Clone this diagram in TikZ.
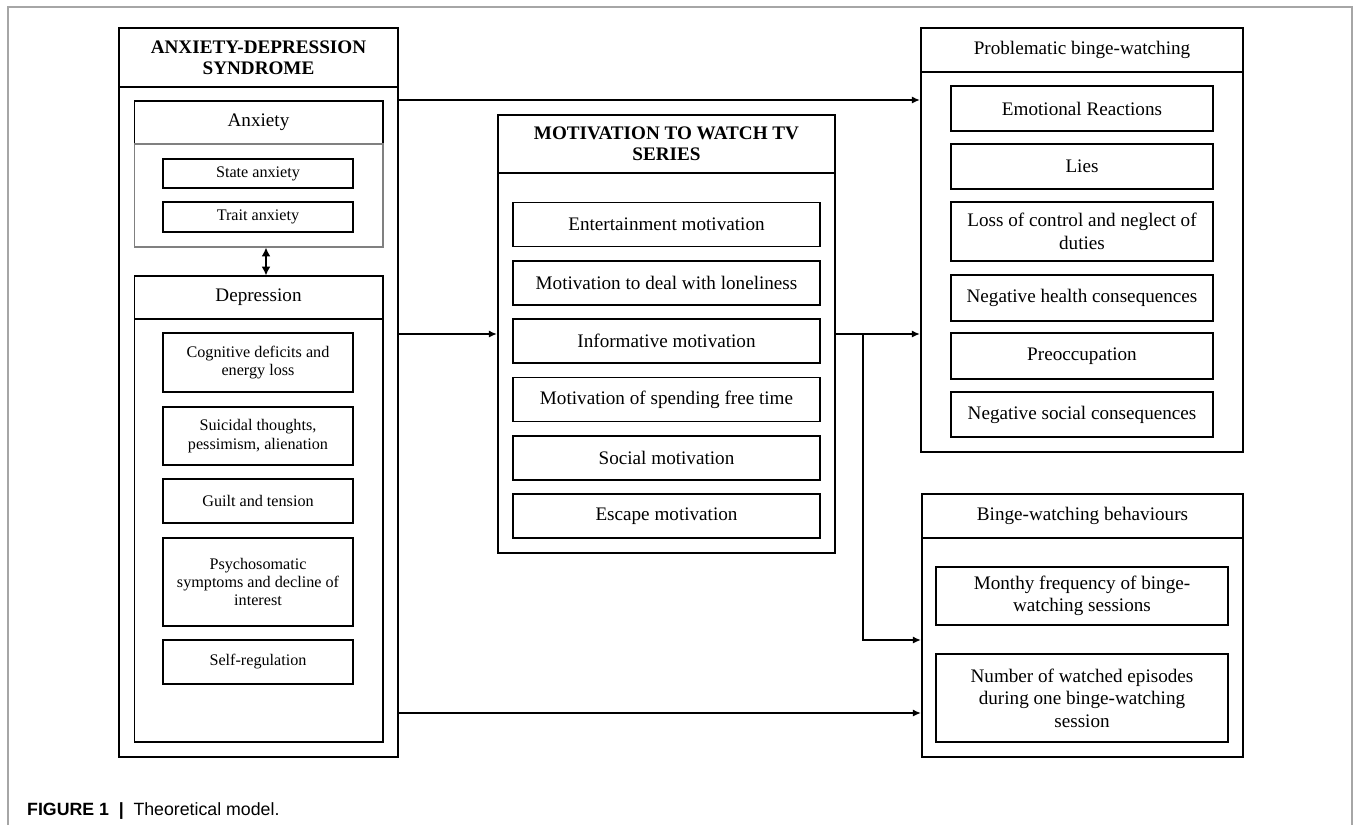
\documentclass[tikz,border=0pt]{standalone}
\usepackage{fontspec}
\setmainfont{Liberation Serif}
\newfontfamily\capfont{Liberation Sans}
\usepackage{tikz}
\usepackage{xcolor}
\usetikzlibrary{arrows,arrows.meta,positioning}

\tikzset{
  frame/.style={draw, line width=1.5pt, inner sep=0pt, align=center},
  group/.style={draw, line width=0.6pt, inner sep=0pt, align=center},
  item/.style={draw, line width=0.7pt, inner sep=2pt, align=center,
    font=\fontsize{10.9}{12.8}\selectfont},
  smallitem/.style={item, font=\fontsize{9.2}{10.5}\selectfont},
  arr/.style={-{Latex[length=4.5pt,width=4pt]}, line width=0.6pt},
}

\begin{document}
\begin{tikzpicture}[x=0.02cm,y=-0.02cm,font=\fontsize{10.9}{12.5}\selectfont]
\useasboundingbox (0,0) rectangle (1354,825);
\draw[gray!70,line width=0.6pt](8,825) -- (8,7) -- (1352,7) -- (1352,825);

% anxiety-depression syndrome
\node[frame,minimum width=5.58cm,minimum height=1.18cm,font=\fontsize{10.9}{12}\selectfont\bfseries] (adsHead) at (258.5,57.5) {ANXIETY-DEPRESSION\\SYNDROME};
\node[frame,minimum width=5.58cm,minimum height=13.4cm] (adsBody) at (258.5,422) {};
\node[group,minimum width=4.98cm,minimum height=0.86cm] (anxHead) at (258.5,122.5) {Anxiety};
\node[group,draw=gray,minimum width=4.98cm,minimum height=2.06cm] (anxBody) at (258.5,195.5) {};
\node[smallitem,minimum width=3.8cm,minimum height=0.58cm] (state) at (258,173.5) {State anxiety};
\node[smallitem,minimum width=3.8cm,minimum height=0.6cm] (trait) at (258,217) {Trait anxiety};
\node[group,minimum width=4.98cm,minimum height=0.86cm] (depHead) at (258.5,297.5) {Depression};
\node[group,minimum width=4.98cm,minimum height=8.46cm] (depBody) at (258.5,530.5) {};
\node[smallitem,minimum width=3.8cm,minimum height=1.18cm] (cog) at (258,362.5) {Cognitive deficits and\\energy loss};
\node[smallitem,minimum width=3.8cm,minimum height=1.16cm] (sui) at (258,436) {Suicidal thoughts,\\pessimism, alienation};
\node[smallitem,minimum width=3.8cm,minimum height=0.88cm] (guilt) at (258,501) {Guilt and tension};
\node[smallitem,minimum width=3.8cm,minimum height=1.76cm] (psy) at (258,582) {Psychosomatic\\symptoms and decline of\\interest};
\node[smallitem,minimum width=3.8cm,minimum height=0.88cm] (selfreg) at (258,662) {Self-regulation};
\draw[{Latex[length=5pt,width=5pt]}-{Latex[length=5pt,width=5pt]},line width=0.9pt] ([xshift=0.15cm]anxBody.south) -- ([xshift=0.15cm]depHead.north);

% motivation
\node[frame,minimum width=6.74cm,minimum height=1.16cm,font=\fontsize{10.9}{12}\selectfont\bfseries] (motHead) at (666.5,144) {MOTIVATION TO WATCH TV\\SERIES};
\node[frame,minimum width=6.74cm,minimum height=7.6cm] (motBody) at (666.5,363) {};
\node[item,minimum width=6.14cm,minimum height=0.88cm] (ent) at (666.5,224.5) {Entertainment motivation};
\node[item,minimum width=6.14cm,minimum height=0.88cm] (lone) at (666.5,283) {Motivation to deal with loneliness};
\node[item,minimum width=6.14cm,minimum height=0.88cm] (info) at (666.5,341) {Informative motivation};
\node[item,minimum width=6.14cm,minimum height=0.88cm] (free) at (666.5,399.5) {Motivation of spending free time};
\node[item,minimum width=6.14cm,minimum height=0.88cm] (soc) at (666.5,458) {Social motivation};
\node[item,minimum width=6.14cm,minimum height=0.88cm] (esc) at (666.5,516) {Escape motivation};

% problematic binge-watching
\node[frame,minimum width=6.44cm,minimum height=0.88cm] (pbwHead) at (1082,50) {Problematic binge-watching};
\node[frame,minimum width=6.44cm,minimum height=7.6cm] (pbwBody) at (1082,262) {};
\node[item,minimum width=5.24cm,minimum height=0.9cm] (emo) at (1082,108.5) {Emotional Reactions};
\node[item,minimum width=5.24cm,minimum height=0.9cm] (lies) at (1082,166.5) {Lies};
\node[item,minimum width=5.24cm,minimum height=1.18cm] (loss) at (1082,231.5) {Loss of control and neglect of\\duties};
\node[item,minimum width=5.24cm,minimum height=0.92cm] (health) at (1082,298) {Negative health consequences};
\node[item,minimum width=5.24cm,minimum height=0.92cm] (preocc) at (1082,356) {Preoccupation};
\node[item,minimum width=5.24cm,minimum height=0.9cm] (socc) at (1082,414.5) {Negative social consequences};

% binge-watching behaviours
\node[frame,minimum width=6.42cm,minimum height=0.88cm] (bwbHead) at (1082.5,516) {Binge-watching behaviours};
\node[frame,minimum width=6.42cm,minimum height=4.38cm] (bwbBody) at (1082.5,647.5) {};
\node[item,minimum width=5.84cm,minimum height=1.16cm] (month) at (1082,596) {Monthy frequency of binge-\\watching sessions};
\node[item,minimum width=5.84cm,minimum height=1.76cm] (epis) at (1082,698) {Number of watched episodes\\during one binge-watching\\session};

% paths
\coordinate (split) at (863,334);
\draw[arr] (adsBody.east |- 0,100) -- (pbwBody.west |- 0,100);
\draw[arr] (adsBody.east |- 0,334) -- (motBody.west |- 0,334);
\draw[arr] (motBody.east |- split) -- (pbwBody.west |- split);
\draw[arr] (split) |- (bwbBody.west |- 0,640);
\draw[arr] (adsBody.east |- 0,713) -- (bwbBody.west |- 0,713);

\node[anchor=base west,font=\capfont\fontsize{10.1}{12}\selectfont] (caption) at (21,815) {\textbf{FIGURE 1}\hspace{0.55em}\textbf{|}\hspace{0.55em}Theoretical model.};
\end{tikzpicture}
\end{document}
